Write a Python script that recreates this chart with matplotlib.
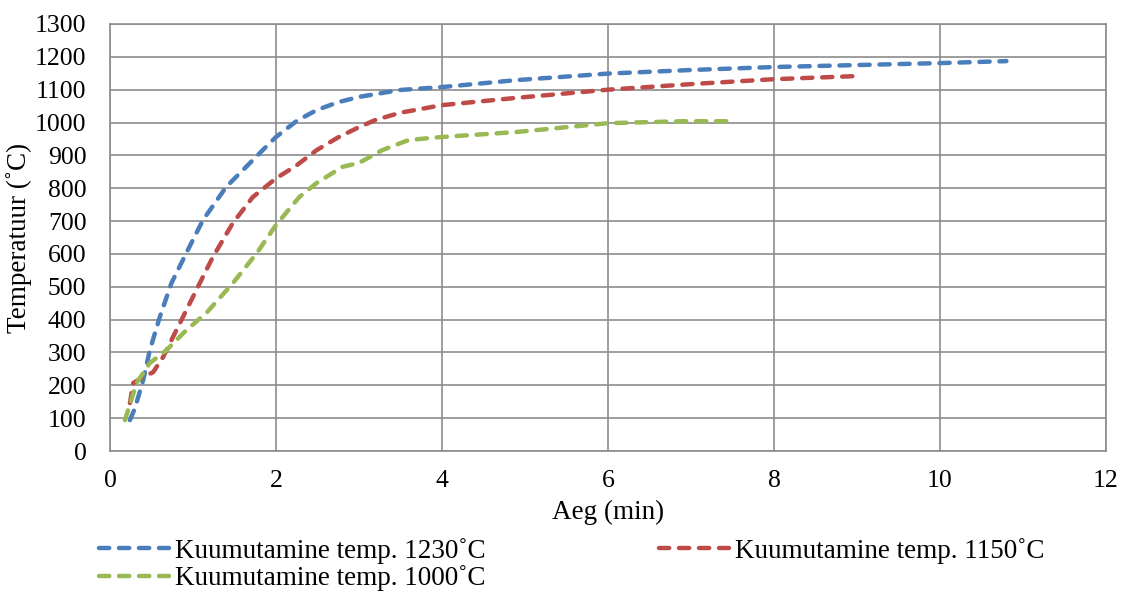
import numpy as np
import matplotlib.pyplot as plt

plt.rcParams['font.family'] = ['Liberation Serif', 'DejaVu Serif']

# heating curves (time in min, temperature in C)
t_1230 = [0.24, 0.30, 0.40, 0.48, 0.60, 0.74, 0.92, 1.12, 1.40, 1.84, 2.0, 2.25, 2.49,
          2.75, 3.0, 3.49, 4.0, 4.89, 6.0, 7.0, 8.0, 9.0, 10.0, 10.8]
T_1230 = [94, 130, 216, 307, 408, 511, 603, 703, 804, 916, 956, 1005, 1038,
          1062, 1078, 1099, 1108, 1129, 1149, 1160, 1169, 1175, 1181, 1187]

t_1150 = [0.24, 0.28, 0.40, 0.52, 0.64, 0.80, 1.04, 1.24, 1.48, 1.72, 2.0, 2.25, 2.49,
          2.75, 3.0, 3.2, 3.5, 4.0, 4.89, 6.0, 7.0, 8.0, 8.95]
T_1150 = [146, 207, 225, 240, 286, 368, 490, 591, 694, 773, 830, 870, 916,
          955, 986, 1008, 1030, 1053, 1075, 1100, 1117, 1132, 1141]

t_1000 = [0.18, 0.32, 0.48, 0.68, 0.92, 1.16, 1.48, 1.77, 2.0, 2.28, 2.49, 2.8, 3.0,
          3.28, 3.6, 4.0, 4.89, 6.0, 6.9, 7.43]
T_1000 = [94, 207, 268, 307, 368, 420, 511, 603, 688, 773, 816, 865, 877,
          916, 947, 956, 971, 998, 1004, 1004]

labels = ['Kuumutamine temp. 1230˚C', 'Kuumutamine temp. 1150˚C', 'Kuumutamine temp. 1000˚C']
colors = ['#4A7EBB', '#BE4B48', '#98B954']

fig = plt.figure(figsize=(11.25, 5.93), dpi=100)
ax = fig.add_axes([110/1125, 1 - 451/593, (1106-110)/1125, (451-24)/593])

lines = []
for t, T, lab, c in zip([t_1230, t_1150, t_1000], [T_1230, T_1150, T_1000], labels, colors):
    ln, = ax.plot(t, T, color=c, lw=3.2, dashes=(2.3, 2.2), dash_capstyle='round',
                  solid_joinstyle='round', label=lab)
    lines.append(ln)

ax.set_xlim(0, 12)
ax.set_ylim(0, 1300)
ax.set_xticks(range(0, 13, 2))
ax.set_yticks(range(0, 1301, 100))
ax.grid(True, color='#8c8c8c', lw=1.2)
ax.set_axisbelow(True)
for s in ax.spines.values():
    s.set_color('#8c8c8c')
    s.set_linewidth(1.2)
ax.tick_params(length=0, labelsize=18.5)
ax.tick_params(axis='y', pad=17)
ax.tick_params(axis='x', pad=14)
ax.set_xlabel('Aeg (min)', fontsize=19.5, labelpad=5)
ax.set_ylabel('Temperatuur (˚C)', fontsize=19.5, labelpad=2)

fig.legend([lines[0], lines[2], lines[1]], [labels[0], labels[2], labels[1]],
           ncol=2, loc='upper left', bbox_to_anchor=(99/1125, 1 - 538/593),
           frameon=False, fontsize=19.5, handlelength=2.6, handletextpad=0.2,
           columnspacing=6.4, labelspacing=0.05, borderaxespad=0, borderpad=0)

plt.savefig('out.png', dpi=100)
